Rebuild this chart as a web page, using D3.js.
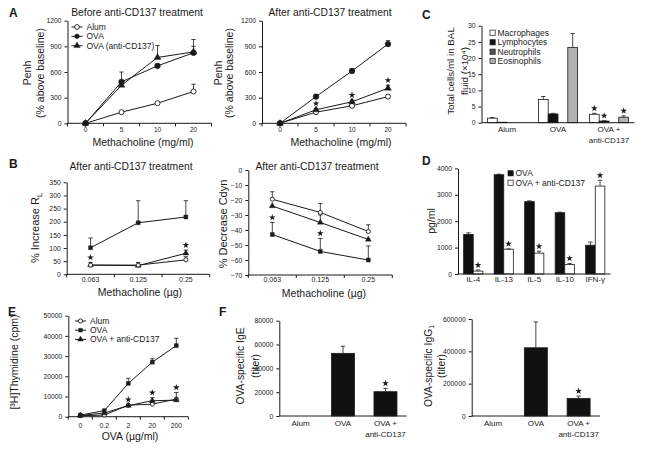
<!DOCTYPE html>
<html>
<head>
<meta charset="utf-8">
<script src="https://cdn.jsdelivr.net/npm/d3@7"></script>
<style>
  body { margin: 0; background: #fff; }
  svg text { font-family: "Liberation Sans", Arial, sans-serif; }
</style>
</head>
<body>
<script>
// ---- data ----
const doseA = ["0", "5", "10", "20"];
const penhBeforeAlum = [0, 130, 235, 372];
const penhBeforeAlumErr = [0, 0, 0, 85];
const penhBeforeOva = [0, 485, 672, 825];
const penhBeforeOvaErr = [0, 115, 0, 75];
const penhBeforeAnti = [0, 445, 770, 835];
const penhBeforeAntiErr = [0, 0, 140, 145];

const penhAfterAlum = [0, 130, 205, 312];
const penhAfterAlumErr = [0, 8, 10, 10];
const penhAfterOva = [0, 312, 612, 927];
const penhAfterOvaErr = [0, 20, 25, 40];
const penhAfterAnti = [0, 158, 252, 410];
const penhAfterAntiErr = [0, 15, 20, 35];

const doseB = ["0.063", "0.125", "0.25"];
const rlOva = [101, 196, 218];
const rlOvaErr = [37, 84, 62];
const rlAnti = [35, 33, 80];
const rlAntiErr = [10, 12, 12];
const rlAlum = [35, 35, 55];
const rlAlumErr = [0, 0, 12];

const cdynAlum = [-19.5, -28.3, -41];
const cdynAlumErr = [5, 6, 4.5];
const cdynAnti = [-24, -35, -46.3];
const cdynAntiErr = [0, 5, 0];
const cdynOva = [-43, -54.3, -60];
const cdynOvaErr = [8, 8.7, 9.4];

const cellGroups = ["Alum", "OVA", "OVA +\nanti-CD137"];
const cellTypes = ["Macrophages", "Lymphocytes", "Neutrophils", "Eosinophils"];
const macrophages = [1.4, 7.2, 2.6];
const macrophagesErr = [0.2, 0.9, 0.3];
const lymphocytes = [0.15, 2.7, 0.5];
const lymphocytesErr = [0, 0.2, 0.1];
const neutrophils = [0, 0, 0];
const neutrophilsErr = [0, 0, 0];
const eosinophils = [0, 23.3, 1.7];
const eosinophilsErr = [0, 4.3, 0.4];

const cytokines = ["IL-4", "IL-13", "IL-5", "IL-10", "IFN-γ"];
const cytoOva = [1500, 3760, 2740, 2320, 1090];
const cytoOvaErr = [60, 20, 30, 20, 120];
const cytoAnti = [110, 940, 790, 360, 3330];
const cytoAntiErr = [40, 10, 70, 40, 220];

const doseE = ["0", "0.2", "2", "20", "200"];
const thyAlum = [500, 800, 5700, 6200, 8700];
const thyAlumErr = [0, 0, 0, 1000, 3300];
const thyOva = [800, 3000, 16500, 27000, 35200];
const thyOvaErr = [0, 0, 2500, 1700, 3600];
const thyAnti = [600, 1800, 5500, 7900, 8200];
const thyAntiErr = [0, 0, 500, 1500, 1000];

const groupsF = ["Alum", "OVA", "OVA +\nanti-CD137"];
const ige = [0, 52600, 20400];
const igeErr = [0, 6000, 2800];
const igg = [0, 422000, 109000];
const iggErr = [0, 160000, 14000];

// ---- drawing ----
const INK = "#1a1a1a";
const svg = d3.select("body").append("svg").attr("width", 645).attr("height", 456);
svg.append("rect").attr("width", 645).attr("height", 456).attr("fill", "#fff");

function marker(g, type, x, y, size) {
  const shape = { circle: d3.symbolCircle, circleOpen: d3.symbolCircle,
    triangle: d3.symbolTriangle, square: d3.symbolSquare }[type];
  g.append("path")
    .attr("transform", `translate(${x},${y})`)
    .attr("d", d3.symbol(shape).size(size)())
    .attr("fill", type === "circleOpen" ? "#fff" : INK)
    .attr("stroke", INK)
    .attr("stroke-width", type === "circleOpen" ? 0.9 : 0.4);
}

function star(g, x, y) {
  g.append("path")
    .attr("transform", `translate(${x},${y})`)
    .attr("d", d3.symbol(d3.symbolStar).size(14)())
    .attr("fill", INK);
}

function errorBars(g, vals, errs, xf, y) {
  vals.forEach((v, i) => {
    if (!errs[i]) return;
    const x = xf(i), y0 = y(v), y1 = y(v + errs[i]);
    g.append("line").attr("x1", x).attr("x2", x).attr("y1", y0).attr("y2", y1)
      .attr("stroke", INK).attr("stroke-width", 0.8);
    g.append("line").attr("x1", x - 2.2).attr("x2", x + 2.2).attr("y1", y1).attr("y2", y1)
      .attr("stroke", INK).attr("stroke-width", 0.8);
  });
}

function yAxis(g, y, c) {
  const a = g.append("g").attr("transform", `translate(${c.left},0)`)
    .call(d3.axisLeft(y).tickValues(c.yTicks).tickSize(3).tickSizeOuter(0)
      .tickPadding(3).tickFormat(d3.format("d")));
  a.select(".domain").attr("stroke", INK);
  a.selectAll(".tick line").attr("stroke", INK);
  a.selectAll("text").attr("font-size", 6.8).attr("fill", INK)
    .attr("font-family", '"Liberation Sans", Arial, sans-serif');
}

function xAxis(g, x, c) {
  g.append("line").attr("x1", c.left).attr("x2", c.right)
    .attr("y1", c.bottom).attr("y2", c.bottom).attr("stroke", INK);
  if (c.edgeTicks) {
    g.selectAll(null).data(d3.range(x.domain().length + 1)).join("line")
      .attr("x1", i => c.left + i * x.step()).attr("x2", i => c.left + i * x.step())
      .attr("y1", c.bottom).attr("y2", c.bottom + 3).attr("stroke", INK);
  }
  const fs = c.xFont;
  x.domain().forEach(cat => {
    const cx = x(cat) + x.bandwidth() / 2;
    const t = g.append("text").attr("text-anchor", "middle").attr("font-size", fs).attr("fill", INK)
      .attr("y", c.bottom + c.xPad + 0.35 * fs);
    cat.split("\n").forEach((line, k) =>
      t.append("tspan").attr("x", cx).attr("dy", k ? fs * 1.4 : 0).text(line));
  });
}

function text(x, y, str, fs, opts = {}) {
  const t = svg.append("text").attr("x", x).attr("y", y).attr("font-size", fs)
    .attr("fill", INK).attr("text-anchor", opts.anchor || "middle")
    .attr("font-weight", opts.bold ? "bold" : null).text(str);
  return t;
}

// rotated axis label, cx = visual centre of the glyphs
function yLabel(cx, cy, str, fs) {
  return svg.append("text")
    .attr("transform", `translate(${cx + 0.35 * fs},${cy}) rotate(-90)`)
    .attr("text-anchor", "middle").attr("font-size", fs).attr("fill", INK).text(str);
}

function lineChart(c) {
  const g = svg.append("g");
  const x = d3.scaleBand().domain(c.cats).range([c.left, c.right]);
  const y = d3.scaleLinear().domain(c.yDomain).range([c.bottom, c.top]);
  const px = i => x(c.cats[i]) + x.bandwidth() / 2;
  yAxis(g, y, c);
  xAxis(g, x, c);
  c.series.forEach(s => {
    g.append("path").datum(s.vals).attr("fill", "none").attr("stroke", INK).attr("stroke-width", 1)
      .attr("d", d3.line().x((v, i) => px(i)).y(v => y(v)));
  });
  c.series.forEach(s => errorBars(g, s.vals, s.errs, px, y));
  c.series.forEach(s => s.vals.forEach((v, i) => marker(g, s.marker, px(i), y(v), s.size)));
  (c.stars || []).forEach(st => {
    const s = c.series[st.s];
    star(g, px(st.i), y(s.vals[st.i] + s.errs[st.i]) - 5);
  });
  return { x, y };
}

function barChart(c) {
  const g = svg.append("g");
  const x = d3.scaleBand().domain(c.cats).range([c.left, c.right]);
  const y = d3.scaleLinear().domain(c.yDomain).range([c.bottom, c.top]);
  const n = c.series.length;
  const off = (x.bandwidth() - c.barW * n) / 2;
  const bx = (i, k) => x(c.cats[i]) + off + k * c.barW;
  yAxis(g, y, c);
  c.series.forEach((s, k) => {
    g.selectAll(null).data(s.vals).join("rect")
      .attr("x", (v, i) => bx(i, k)).attr("y", v => y(v))
      .attr("width", c.barW).attr("height", v => y(0) - y(v))
      .attr("fill", s.fill).attr("stroke", INK).attr("stroke-width", 0.8);
    errorBars(g, s.vals, s.errs, i => bx(i, k) + c.barW / 2, y);
  });
  xAxis(g, x, c);
  (c.stars || []).forEach(st => {
    const s = c.series[st.s];
    star(g, bx(st.i, st.s) + c.barW / 2, y(s.vals[st.i] + s.errs[st.i]) - 5);
  });
}

function lineLegend(x, rows, items, size) {
  items.forEach((it, k) => {
    const g = svg.append("g");
    g.append("line").attr("x1", x).attr("x2", x + 11).attr("y1", rows[k]).attr("y2", rows[k])
      .attr("stroke", INK).attr("stroke-width", 1);
    marker(g, it.marker, x + 5.5, rows[k], size);
    text(x + 15, rows[k] + 3, it.label, 8.5, { anchor: "start" });
  });
}

function boxLegend(x, rows, items) {
  items.forEach((it, k) => {
    svg.append("rect").attr("x", x).attr("y", rows[k] - 2.6).attr("width", 5.2).attr("height", 5.2)
      .attr("fill", it.fill).attr("stroke", INK).attr("stroke-width", 0.7);
    text(x + 7.5, rows[k] + 3, it.label, 8.5, { anchor: "start" });
  });
}

// ---- panel A ----
text(9, 16.5, "A", 12, { bold: true, anchor: "start" });
text(137, 15.7, "Before anti-CD137 treatment", 10.3);
lineChart({
  cats: doseA, left: 67.5, right: 211.5, top: 20.7, bottom: 123.3,
  yDomain: [0, 1200], yTicks: [0, 300, 600, 900, 1200],
  edgeTicks: true, xFont: 6.5, xPad: 6,
  series: [
    { vals: penhBeforeAlum, errs: penhBeforeAlumErr, marker: "circleOpen", size: 20 },
    { vals: penhBeforeOva, errs: penhBeforeOvaErr, marker: "circle", size: 26 },
    { vals: penhBeforeAnti, errs: penhBeforeAntiErr, marker: "triangle", size: 20 }
  ]
});
lineLegend(71.5, [27, 36.3, 45.7], [
  { marker: "circleOpen", label: "Alum" },
  { marker: "circle", label: "OVA" },
  { marker: "triangle", label: "OVA (anti-CD137)" }
], 18);
yLabel(27.5, 73, "Penh", 10.5);
yLabel(40.5, 73, "(% above baseline)", 10.5);
text(143, 146.2, "Methacholine (mg/ml)", 10.5);

text(330, 15.7, "After anti-CD137 treatment", 10.3);
lineChart({
  cats: doseA, left: 262, right: 406, top: 20.7, bottom: 123.3,
  yDomain: [0, 1200], yTicks: [0, 300, 600, 900, 1200],
  edgeTicks: true, xFont: 6.5, xPad: 6,
  series: [
    { vals: penhAfterAlum, errs: penhAfterAlumErr, marker: "circleOpen", size: 20 },
    { vals: penhAfterOva, errs: penhAfterOvaErr, marker: "circle", size: 26 },
    { vals: penhAfterAnti, errs: penhAfterAntiErr, marker: "triangle", size: 20 }
  ],
  stars: [{ s: 2, i: 1 }, { s: 2, i: 2 }, { s: 2, i: 3 }]
});
yLabel(218, 73, "Penh", 10.5);
yLabel(229.5, 73, "(% above baseline)", 10.5);
text(341, 146.2, "Methacholine (mg/ml)", 10.5);

// ---- panel C ----
text(422, 18.5, "C", 12, { bold: true, anchor: "start" });
barChart({
  cats: cellGroups, left: 481.5, right: 634.5, top: 25.7, bottom: 122.7,
  yDomain: [0, 30], yTicks: [0, 5, 10, 15, 20, 25, 30],
  xFont: 8, xPad: 6.6, barW: 9.8,
  series: [
    { vals: macrophages, errs: macrophagesErr, fill: "#fff" },
    { vals: lymphocytes, errs: lymphocytesErr, fill: "#111" },
    { vals: neutrophils, errs: neutrophilsErr, fill: "#555" },
    { vals: eosinophils, errs: eosinophilsErr, fill: "#b3b3b3" }
  ],
  stars: [{ s: 0, i: 2 }, { s: 1, i: 2 }, { s: 3, i: 2 }]
});
boxLegend(490, [32.7, 42.3, 51.7, 61], cellTypes.map((label, k) =>
  ({ label, fill: ["#fff", "#111", "#555", "#b3b3b3"][k] })));
yLabel(451, 71, "Total cells/ml in BAL", 9.8);
yLabel(465, 71, "fluid (×10⁴)", 9.8);

// ---- panel B ----
text(9, 167.5, "B", 12, { bold: true, anchor: "start" });
text(131, 169.5, "After anti-CD137 treatment", 10.3);
lineChart({
  cats: doseB, left: 66.7, right: 209.7, top: 182.3, bottom: 274.3,
  yDomain: [0, 350], yTicks: [0, 50, 100, 150, 200, 250, 300, 350],
  edgeTicks: true, xFont: 7, xPad: 5.5,
  series: [
    { vals: rlOva, errs: rlOvaErr, marker: "square", size: 16 },
    { vals: rlAnti, errs: rlAntiErr, marker: "triangle", size: 15 },
    { vals: rlAlum, errs: rlAlumErr, marker: "circleOpen", size: 13 }
  ],
  stars: [{ s: 1, i: 0 }, { s: 1, i: 2 }]
});
const rl = yLabel(35.5, 228, "% Increase R", 11);
rl.append("tspan").attr("font-size", 7.5).attr("dy", 2.5).text("L");
text(140, 295.8, "Methacholine (µg)", 10.5);

text(317, 169.5, "After anti-CD137 treatment", 10.3);
lineChart({
  cats: doseB, left: 248.3, right: 392.3, top: 170, bottom: 275,
  yDomain: [-70, 0], yTicks: [-70, -60, -50, -40, -30, -20, -10, 0],
  edgeTicks: true, xFont: 7, xPad: 5,
  series: [
    { vals: cdynAlum, errs: cdynAlumErr, marker: "circleOpen", size: 13 },
    { vals: cdynAnti, errs: cdynAntiErr, marker: "triangle", size: 15 },
    { vals: cdynOva, errs: cdynOvaErr, marker: "square", size: 16 }
  ],
  stars: [{ s: 2, i: 0 }, { s: 2, i: 1 }]
});
yLabel(223, 224, "% Decrease Cdyn", 11);
text(324, 296.8, "Methacholine (µg)", 10.5);

// ---- panel D ----
text(422, 164.5, "D", 12, { bold: true, anchor: "start" });
barChart({
  cats: cytokines, left: 458, right: 610.5, top: 168.4, bottom: 274,
  yDomain: [0, 4000], yTicks: [0, 1000, 2000, 3000, 4000],
  xFont: 8, xPad: 5.3, barW: 9.6,
  series: [
    { vals: cytoOva, errs: cytoOvaErr, fill: "#111" },
    { vals: cytoAnti, errs: cytoAntiErr, fill: "#fff" }
  ],
  stars: [0, 1, 2, 3, 4].map(i => ({ s: 1, i }))
});
boxLegend(508, [173.3, 182.7], [
  { label: "OVA", fill: "#111" },
  { label: "OVA + anti-CD137", fill: "#fff" }
]);
yLabel(431, 221, "pg/ml", 10.5);

// ---- panel E ----
text(8, 316, "E", 12, { bold: true, anchor: "start" });
lineChart({
  cats: doseE, left: 68.3, right: 188.3, top: 315.7, bottom: 416.7,
  yDomain: [0, 50000], yTicks: [0, 10000, 20000, 30000, 40000, 50000],
  edgeTicks: true, xFont: 6.8, xPad: 9,
  series: [
    { vals: thyAlum, errs: thyAlumErr, marker: "circleOpen", size: 13 },
    { vals: thyOva, errs: thyOvaErr, marker: "square", size: 16 },
    { vals: thyAnti, errs: thyAntiErr, marker: "triangle", size: 15 }
  ],
  stars: [{ s: 2, i: 2 }, { s: 2, i: 3 }, { s: 0, i: 4 }]
});
lineLegend(75, [321, 330.2, 339.4], [
  { marker: "circleOpen", label: "Alum" },
  { marker: "square", label: "OVA" },
  { marker: "triangle", label: "OVA + anti-CD137" }
], 14);
yLabel(14.7, 362, "[³H]Thymidine (cpm)", 10.5);
text(130, 439.7, "OVA (µg/ml)", 10.5);

// ---- panel F ----
text(219, 316, "F", 12, { bold: true, anchor: "start" });
barChart({
  cats: groupsF, left: 279.3, right: 406.7, top: 320.7, bottom: 416,
  yDomain: [0, 80000], yTicks: [0, 20000, 40000, 60000, 80000],
  xFont: 8, xPad: 6.7, barW: 23,
  series: [{ vals: ige, errs: igeErr, fill: "#111" }],
  stars: [{ s: 0, i: 2 }]
});
yLabel(240.5, 366, "OVA-specific IgE", 10.3);
yLabel(255, 366, "(titer)", 10.3);

barChart({
  cats: groupsF, left: 471.7, right: 600, top: 319, bottom: 416,
  yDomain: [0, 600000], yTicks: [0, 200000, 400000, 600000],
  xFont: 8, xPad: 6.7, barW: 23,
  series: [{ vals: igg, errs: iggErr, fill: "#111" }],
  stars: [{ s: 0, i: 2 }]
});
const gl = yLabel(428, 366, "OVA-specific IgG", 10.3);
gl.append("tspan").attr("font-size", 7).attr("dy", 2.5).text("1");
yLabel(441.7, 366, "(titer)", 10.3);
</script>
</body>
</html>
